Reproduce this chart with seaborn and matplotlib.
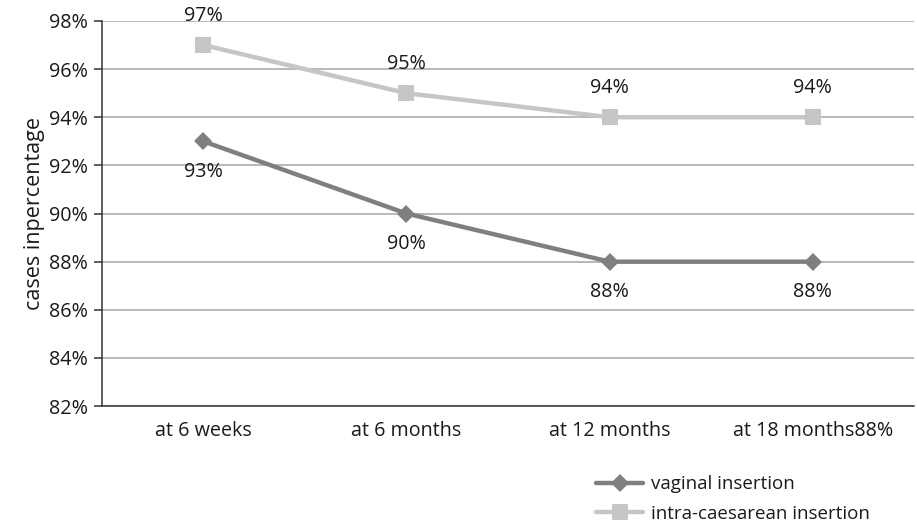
import matplotlib
matplotlib.use("Agg")
import matplotlib.pyplot as plt
from matplotlib.ticker import FixedLocator, FuncFormatter
import seaborn as sns
import pandas as pd

# Follow-up time points and percentage of cases for each insertion route
categories = ["at 6 weeks", "at 6 months", "at 12 months", "at 18 months"]
tick_labels = ["at 6 weeks", "at 6 months", "at 12 months", "at 18 months88%"]
vaginal = [93, 90, 88, 88]
intra_caesarean = [97, 95, 94, 94]
series_names = ["vaginal insertion", "intra-caesarean insertion"]
y_ticks = [82, 84, 86, 88, 90, 92, 94, 96, 98]

sns.set_theme(style="white")
plt.rcParams["font.family"] = ["Open Sans", "DejaVu Sans"]

FS = 14.2
TEXT = "#1a1a1a"

df = pd.DataFrame({
    "pos": list(range(len(categories))) * 2,
    "value": vaginal + intra_caesarean,
    "series": [series_names[0]] * len(categories) + [series_names[1]] * len(categories),
})

fig = plt.figure(figsize=(9.17, 5.24), dpi=100)
ax = fig.add_axes([0.111, 0.225, 0.886, 0.735])

palette = {series_names[0]: "#7f7f7f", series_names[1]: "#c6c6c6"}
markers = {series_names[0]: "D", series_names[1]: "s"}
sizes = {series_names[0]: 9, series_names[1]: 11}

for name in series_names:
    sub = df[df["series"] == name]
    sns.lineplot(data=sub, x="pos", y="value", ax=ax, color=palette[name],
                 linewidth=3.2, marker=markers[name], markersize=sizes[name],
                 markeredgewidth=0, label=name, legend=False, zorder=3)

# Value labels: light series above its points, dark series below
for i, v in enumerate(intra_caesarean):
    ax.annotate(f"{v}%", (i, v), xytext=(0, 21), textcoords="offset points",
                ha="center", va="center", fontsize=FS, color=TEXT)
for i, v in enumerate(vaginal):
    ax.annotate(f"{v}%", (i, v), xytext=(0, -22), textcoords="offset points",
                ha="center", va="center", fontsize=FS, color=TEXT)

ax.set_xlim(-0.5, len(categories) - 0.5)
ax.set_ylim(82, 98)
ax.yaxis.set_major_locator(FixedLocator(y_ticks))
ax.yaxis.set_major_formatter(FuncFormatter(lambda v, p: f"{v:.0f}%"))
ax.grid(axis="y", color="#a6a6a6", linewidth=1.1)
ax.set_axisbelow(True)

ax.set_xticks(range(len(categories)))
ax.set_xticklabels(tick_labels)
ax.set_xticks([i - 0.5 for i in range(len(categories) + 1)], minor=True)
ax.tick_params(axis="x", which="major", length=0, pad=11, labelsize=FS, colors=TEXT)
ax.tick_params(axis="x", which="minor", length=6, width=1.1, color="#333333", direction="out")
ax.tick_params(axis="y", which="major", length=6, width=1.1, color="#333333",
               direction="out", labelsize=FS, colors=TEXT, left=True, pad=4)

for side in ["top", "right"]:
    ax.spines[side].set_visible(False)
for side in ["left", "bottom"]:
    ax.spines[side].set_color("#333333")
    ax.spines[side].set_linewidth(1.1)

ax.set_xlabel("")
ax.set_ylabel("cases inpercentage", fontsize=15.5, color=TEXT, labelpad=3)

handles, labels = ax.get_legend_handles_labels()
fig.legend(handles, labels, loc="upper left", bbox_to_anchor=(0.632, 0.125),
           frameon=False, fontsize=13.5, handlelength=2.5, labelspacing=0.62,
           handletextpad=0.4, labelcolor=TEXT)

fig.savefig("out.png", dpi=100)
